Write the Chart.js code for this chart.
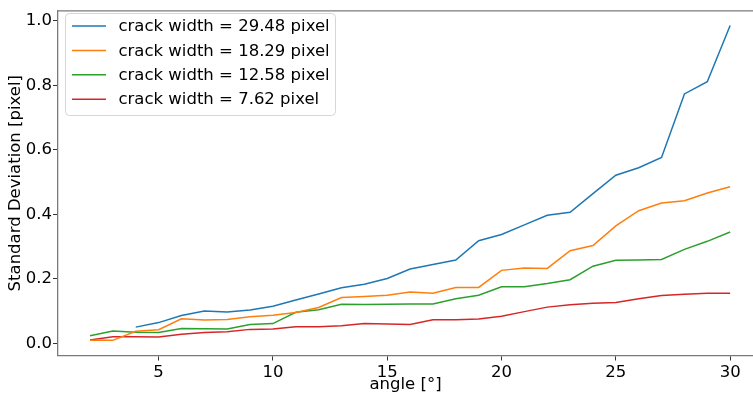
<!DOCTYPE html>
<html>
<head>
<meta charset="utf-8">
<script src="https://cdn.jsdelivr.net/npm/chart.js@4"></script>
<style>
  html, body { margin: 0; padding: 0; background: #fff; overflow: hidden; }
  #wrap { width: 753px; height: 400px; }
</style>
</head>
<body>
<div id="wrap"><canvas id="stdChart" width="753" height="400"></canvas></div>
<script>
// angle values on the x axis
const angles = [2, 3, 4, 5, 6, 7, 8, 9, 10, 11, 12, 13, 14, 15, 16, 17, 18, 19, 20, 21, 22, 23, 24, 25, 26, 27, 28, 29, 30];

// standard deviation per crack width
const width2948 = [null, null, 0.050, 0.064, 0.086, 0.100, 0.097, 0.103, 0.115, 0.134, 0.153, 0.172, 0.183, 0.201, 0.230, 0.244, 0.258, 0.318, 0.337, 0.367, 0.397, 0.406, 0.464, 0.521, 0.544, 0.576, 0.773, 0.811, 0.985];
const width1829 = [0.009, 0.009, 0.037, 0.042, 0.076, 0.072, 0.074, 0.082, 0.087, 0.095, 0.111, 0.142, 0.145, 0.149, 0.159, 0.155, 0.173, 0.173, 0.226, 0.233, 0.232, 0.287, 0.303, 0.364, 0.411, 0.435, 0.442, 0.466, 0.485];
const width1258 = [0.023, 0.038, 0.034, 0.033, 0.046, 0.045, 0.044, 0.058, 0.061, 0.096, 0.104, 0.121, 0.120, 0.121, 0.122, 0.122, 0.138, 0.149, 0.175, 0.175, 0.185, 0.197, 0.239, 0.257, 0.258, 0.260, 0.291, 0.316, 0.345];
const width762 = [0.010, 0.020, 0.020, 0.019, 0.028, 0.033, 0.036, 0.043, 0.044, 0.051, 0.051, 0.054, 0.061, 0.060, 0.058, 0.073, 0.073, 0.075, 0.084, 0.098, 0.112, 0.119, 0.124, 0.126, 0.138, 0.148, 0.152, 0.155, 0.155];

const seriesLabels = ["crack width = 29.48 pixel", "crack width = 18.29 pixel", "crack width = 12.58 pixel", "crack width = 7.62 pixel"];
const seriesColors = ["#1f77b4", "#ff7f0e", "#2ca02c", "#d62728"];

const xTicks = [5, 10, 15, 20, 25, 30];
const yTicks = [0.0, 0.2, 0.4, 0.6, 0.8, 1.0];

const FONT = "'DejaVu Sans', sans-serif";
const FONT_SIZE = 16.5;

function toPoints(values) {
  return angles.map((a, i) => ({ x: a, y: values[i] }));
}

// top spine
const frame = {
  id: "frame",
  afterDraw(chart) {
    const { ctx, chartArea } = chart;
    ctx.save();
    ctx.strokeStyle = "#7a7a7a";
    ctx.lineWidth = 1.3;
    ctx.beginPath();
    ctx.moveTo(chartArea.left, chartArea.top);
    ctx.lineTo(chartArea.right, chartArea.top);
    ctx.stroke();
    ctx.restore();
  },
};

// legend drawn inside the plot, upper left
const boxLegend = {
  id: "boxLegend",
  afterDraw(chart) {
    const { ctx } = chart;
    const x = 65.5, y = 13.5, w = 270, h = 102, r = 4;
    ctx.save();
    ctx.fillStyle = "rgba(255,255,255,0.8)";
    ctx.strokeStyle = "#d6d6d6";
    ctx.lineWidth = 1;
    ctx.beginPath();
    ctx.roundRect(x, y, w, h, r);
    ctx.fill();
    ctx.stroke();
    ctx.font = FONT_SIZE + "px " + FONT;
    ctx.textBaseline = "middle";
    ctx.fillStyle = "#000";
    chart.data.datasets.forEach((ds, i) => {
      const rowY = 26 + i * 24.4;
      ctx.strokeStyle = ds.borderColor;
      ctx.lineWidth = 1.5;
      ctx.beginPath();
      ctx.moveTo(72, rowY);
      ctx.lineTo(106, rowY);
      ctx.stroke();
      ctx.fillText(ds.label, 118.5, rowY + 1);
    });
    ctx.restore();
  },
};

const datasets = [width2948, width1829, width1258, width762].map((vals, i) => ({
  label: seriesLabels[i],
  data: toPoints(vals),
  borderColor: seriesColors[i],
  backgroundColor: seriesColors[i],
  borderWidth: 1.5,
  pointRadius: 0,
  tension: 0,
  spanGaps: false,
}));

new Chart(document.getElementById("stdChart"), {
  type: "line",
  data: { datasets },
  plugins: [frame, boxLegend],
  options: {
    responsive: false,
    animation: false,
    layout: { padding: { top: 5, right: 0, left: 0, bottom: 0 } },
    plugins: {
      legend: { display: false },
      tooltip: { enabled: false },
    },
    scales: {
      x: {
        type: "linear",
        min: 0.6,
        max: 31.0,
        afterBuildTicks: (scale) => {
          scale.ticks = xTicks.map((v) => ({ value: v }));
        },
        afterFit: (scale) => {
          scale.height = 44.5;
        },
        ticks: {
          color: "#000",
          padding: 2,
          font: { family: FONT, size: FONT_SIZE },
          callback: (v) => String(v),
        },
        grid: { drawOnChartArea: false, drawTicks: true, tickLength: 5, color: "#333" },
        border: { display: true, color: "#7a7a7a", width: 1.3 },
        title: {
          display: true,
          text: "angle [°]",
          color: "#000",
          font: { family: FONT, size: FONT_SIZE },
          padding: { top: 0, bottom: 5 },
        },
      },
      y: {
        type: "linear",
        min: -0.038,
        max: 1.0305,
        afterBuildTicks: (scale) => {
          scale.ticks = yTicks.map((v) => ({ value: v }));
        },
        afterFit: (scale) => {
          scale.width = 58;
        },
        ticks: {
          color: "#000",
          padding: 1,
          font: { family: FONT, size: FONT_SIZE },
          callback: (v) => v.toFixed(1),
        },
        grid: { drawOnChartArea: false, drawTicks: true, tickLength: 5, color: "#333" },
        border: { display: true, color: "#7a7a7a", width: 1.3 },
        title: {
          display: true,
          text: "Standard Deviation [pixel]",
          color: "#000",
          font: { family: FONT, size: FONT_SIZE },
          padding: { top: 6, bottom: 0 },
        },
      },
    },
  },
});
</script>
</body>
</html>
